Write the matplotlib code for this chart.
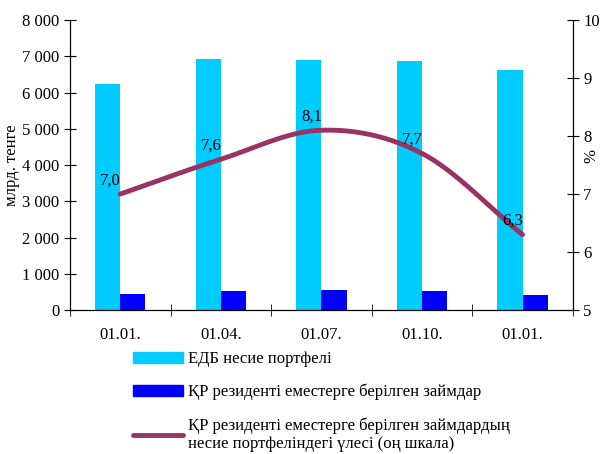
import numpy as np
import matplotlib
matplotlib.use("Agg")
import matplotlib.pyplot as plt
from matplotlib.patches import Patch
from matplotlib.lines import Line2D

plt.rcParams["font.family"] = ["Liberation Serif", "DejaVu Serif"]
plt.rcParams["font.size"] = 12

categories = ["01.01.", "01.04.", "01.07.", "01.10.", "01.01."]
portfolio = [6230, 6930, 6890, 6860, 6620]
nonresident_loans = [430, 530, 560, 530, 410]
share = [7.0, 7.6, 8.1, 7.7, 6.3]
share_labels = ["7,0", "7,6", "8,1", "7,7", "6,3"]

labels = [
    "ЕДБ несие портфелі",
    "ҚР резиденті еместерге берілген займдар",
    "ҚР резиденті еместерге берілген займдардың\nнесие портфеліндегі үлесі (оң шкала)",
]
c_light = "#00CCFF"
c_dark = "#0000FF"
c_line = "#993366"


def smooth(x, y, n=30):
    # catmull-rom style smoothing, similar to Excel's smoothed line
    x = np.asarray(x, float)
    y = np.asarray(y, float)
    px = np.concatenate([[2 * x[0] - x[1]], x, [2 * x[-1] - x[-2]]])
    py = np.concatenate([[2 * y[0] - y[1]], y, [2 * y[-1] - y[-2]]])
    xs, ys = [], []
    for i in range(1, len(px) - 2):
        t = np.linspace(0, 1, n)
        for p, out in ((px, xs), (py, ys)):
            p0, p1, p2, p3 = p[i - 1], p[i], p[i + 1], p[i + 2]
            out.extend(0.5 * ((2 * p1) + (-p0 + p2) * t
                              + (2 * p0 - 5 * p1 + 4 * p2 - p3) * t ** 2
                              + (-p0 + 3 * p1 - 3 * p2 + p3) * t ** 3))
    return np.array(xs), np.array(ys)


fig = plt.figure(figsize=(6.03, 4.54), dpi=100)
ax = fig.add_axes([0.116, 0.317, 0.834, 0.639])
x = np.arange(len(categories))
w = 0.25
ax.bar(x - w / 2, portfolio, w, color=c_light)
ax.bar(x + w / 2, nonresident_loans, w, color=c_dark)
ax.set_xlim(-0.5, len(categories) - 0.5)
ax.set_ylim(0, 8000)
ax.set_yticks(range(0, 8001, 1000))
ax.set_yticklabels([f"{v:,}".replace(",", " ") for v in range(0, 8001, 1000)])
ax.set_xticks(x)
ax.set_xticklabels(categories)
ax.set_xticks(np.arange(-0.5, len(categories), 1), minor=True)
ax.tick_params(axis="x", which="major", length=0, pad=12)
ax.tick_params(axis="x", which="minor", direction="inout", length=8)
ax.tick_params(axis="y", direction="inout", length=8)
ax.spines["top"].set_visible(False)
ax.set_ylabel("млрд. тенге", labelpad=2)

ax2 = ax.twinx()
ax2.set_ylim(5, 10)
ax2.set_yticks(range(5, 11))
ax2.tick_params(axis="y", direction="inout", length=8)
ax2.spines["top"].set_visible(False)
ax2.set_ylabel("%")
ax2.yaxis.set_label_coords(1.02, 0.53)
sx, sy = smooth(x, share)
ax2.plot(sx, sy, color=c_line, lw=3.5, solid_capstyle="round")
for xi, yi, lab in zip(x, share, share_labels):
    ax2.annotate(lab, (xi, yi), xytext=(-7, 4), textcoords="offset points",
                 ha="center", va="bottom")

handles = [
    Patch(color=c_light),
    Patch(color=c_dark),
    Line2D([], [], color=c_line, lw=3.5, solid_capstyle="round"),
]
fig.legend(handles, labels, loc="upper left", bbox_to_anchor=(0.209, 0.241),
           frameon=False, handlelength=3.0, handleheight=0.7,
           labelspacing=1.0, handletextpad=0.3, borderaxespad=0)

fig.savefig("out.png", dpi=100)
